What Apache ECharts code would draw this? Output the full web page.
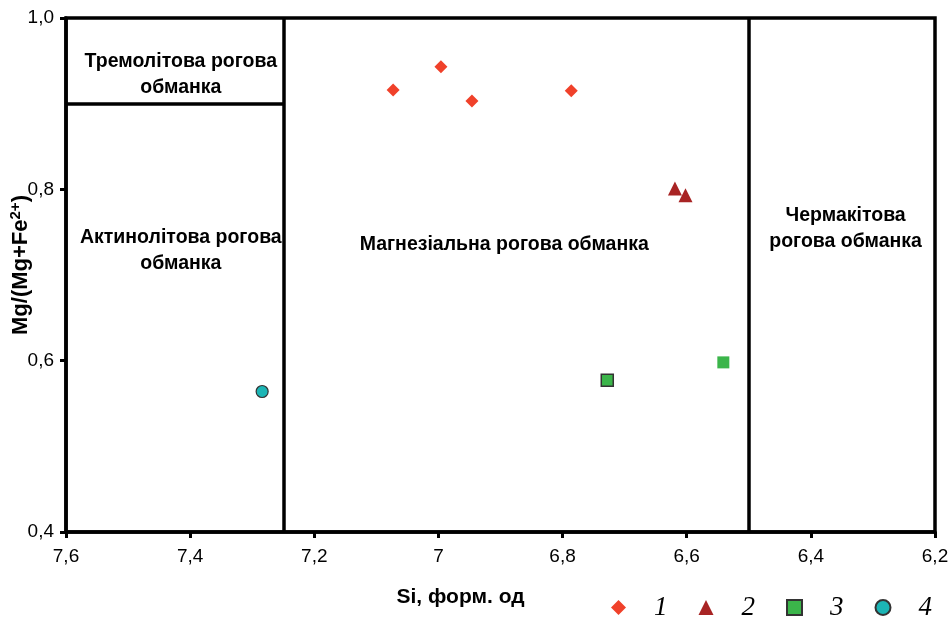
<!DOCTYPE html>
<html>
<head>
<meta charset="utf-8">
<script src="https://cdn.jsdelivr.net/npm/echarts@6/dist/echarts.min.js"></script>
<style>
  html, body { margin: 0; padding: 0; background: #fff; }
  #app { width: 951px; height: 617px; }
</style>
</head>
<body>
<div id="app"></div>
<script>
// дані (Si, Mg/(Mg+Fe2+))
var group1 = [[7.073, 0.916], [6.996, 0.943], [6.946, 0.903], [6.786, 0.915]];
var group2 = [[6.619, 0.801], [6.602, 0.793]];
var group3 = [[6.728, 0.577], [6.541, 0.598]];
var group4 = [[7.284, 0.564]];

var xTicks = [7.6, 7.4, 7.2, 7.0, 6.8, 6.6, 6.4, 6.2];
var yTicks = [0.4, 0.6, 0.8, 1.0];

// межі полів
var boundaries = [
    [[7.25, 0.4], [7.25, 1.0]],
    [[6.5, 0.4], [6.5, 1.0]],
    [[7.6, 0.9], [7.25, 0.9]]
];
var fieldLabels = [
    { name: 'Тремолітова рогова\nобманка', value: [7.415, 0.934] },
    { name: 'Актинолітова рогова\nобманка', value: [7.415, 0.7285] },
    { name: 'Магнезіальна рогова обманка', value: [6.894, 0.735] },
    { name: 'Чермакітова\nрогова обманка', value: [6.344, 0.7545] }
];

var chart = echarts.init(document.getElementById('app'));

var option = {
    backgroundColor: '#fff',
    animation: false,
    grid: {
        left: 66, right: 16, top: 18, bottom: 85,
        containLabel: false, outerBoundsMode: 'none',
        show: true, borderColor: '#000', borderWidth: 3.5
    },
    legend: {
        left: 606, top: 589,
        itemWidth: 15, itemHeight: 15, itemGap: 31,
        data: ['1', '2', '3', '4'],
        textStyle: {
            fontFamily: 'Liberation Serif', fontStyle: 'italic',
            fontSize: 27, color: '#000', padding: [0, 0, 0, 23]
        }
    },
    xAxis: {
        type: 'value', inverse: true,
        min: 6.2, max: 7.6, interval: 0.2,
        name: 'Si, форм. од', nameLocation: 'middle', nameGap: 55,
        nameMoveOverlap: false,
        nameTextStyle: { fontFamily: 'Liberation Sans', fontWeight: 'bold', fontSize: 21, color: '#000', padding: [0, 80, 0, 0] },
        axisLine: { lineStyle: { color: '#000', width: 3.5 } },
        axisTick: { show: true, length: 6, lineStyle: { color: '#000', width: 3 } },
        axisLabel: {
            margin: 15, fontFamily: 'Liberation Sans', fontSize: 19, color: '#000',
            formatter: function (v) { return String(Math.round(v * 10) / 10).replace('.', ','); }
        },
        splitLine: { show: false }
    },
    yAxis: {
        type: 'value', min: 0.4, max: 1.0, interval: 0.2,
        name: '{b|Mg/(Mg+Fe}{s|2+}{b|)}', nameLocation: 'middle', nameGap: 33,
        nameMoveOverlap: false,
        nameTextStyle: {
            padding: [0, 0, 0, 20],
            rich: {
                b: { fontFamily: 'Liberation Sans', fontWeight: 'bold', fontSize: 22, color: '#000' },
                s: { fontFamily: 'Liberation Sans', fontWeight: 'bold', fontSize: 15, color: '#000', verticalAlign: 'top', padding: [0, 0, 10, 0] }
            }
        },
        axisLine: { lineStyle: { color: '#000', width: 3.5 } },
        axisTick: { show: true, length: 6, lineStyle: { color: '#000', width: 3 } },
        axisLabel: {
            margin: 12, fontFamily: 'Liberation Sans', fontSize: 19, color: '#000',
            formatter: function (v) { return v.toFixed(1).replace('.', ','); }
        },
        splitLine: { show: false }
    },
    series: [
        {
            type: 'lines', coordinateSystem: 'cartesian2d', silent: true,
            polyline: false, z: 1,
            lineStyle: { color: '#000', width: 3.5, opacity: 1 },
            data: boundaries.map(function (b) { return { coords: b }; })
        },
        {
            type: 'scatter', silent: true, symbolSize: 0, z: 2,
            itemStyle: { opacity: 1 },
            label: {
                show: true, position: 'inside', formatter: '{b}',
                fontFamily: 'Liberation Sans', fontWeight: 'bold', fontSize: 19.5,
                color: '#000', opacity: 1, lineHeight: 26, align: 'center'
            },
            data: fieldLabels
        },
        {
            name: '1', type: 'scatter', symbol: 'diamond', symbolSize: 13, z: 5,
            itemStyle: { color: '#f0412a', opacity: 1 },
            data: group1
        },
        {
            name: '2', type: 'scatter', symbol: 'triangle', symbolSize: 14, z: 5,
            itemStyle: { color: '#a82424', opacity: 1 },
            data: group2
        },
        {
            name: '3', type: 'scatter', symbol: 'rect', symbolSize: 12, z: 5,
            itemStyle: { color: '#3bb54a', borderColor: '#333', borderWidth: 1.5, opacity: 1 },
            data: [
                { value: group3[0] },
                { value: group3[1], itemStyle: { borderWidth: 0 } }
            ]
        },
        {
            name: '4', type: 'scatter', symbol: 'circle', symbolSize: 12, z: 5,
            itemStyle: { color: '#1cb5b5', borderColor: '#333', borderWidth: 1.2, opacity: 1 },
            data: group4
        }
    ]
};

chart.setOption(option);
</script>
</body>
</html>
